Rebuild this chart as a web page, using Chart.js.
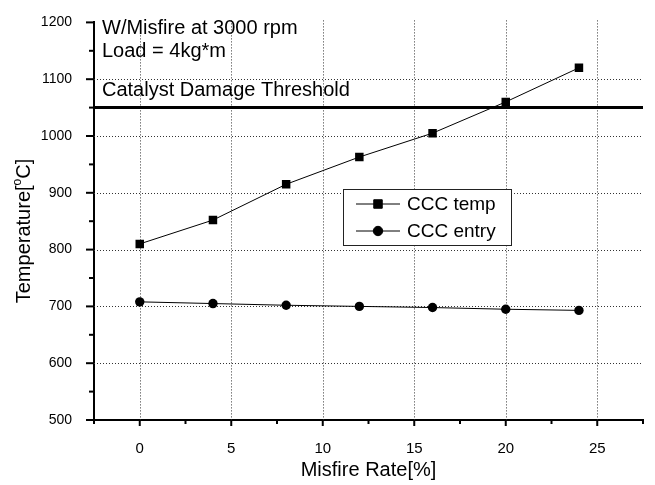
<!DOCTYPE html>
<html>
<head>
<meta charset="utf-8">
<script src="https://cdn.jsdelivr.net/npm/chart.js@4/dist/chart.umd.min.js"></script>
<style>
  html, body { margin: 0; padding: 0; background: #fff; }
</style>
</head>
<body>
<canvas id="misfireChart" width="655" height="485"></canvas>
<script>
const misfireRate = [0, 4, 8, 12, 16, 20, 24];
const cccTemp = [810, 852, 915, 963, 1005, 1060, 1120];
const cccEntry = [708, 705, 702, 700, 698, 695, 693];
const thresholdX = [-2.5, 27.5];
const thresholdY = [1050, 1050];
const xTicks = [0, 5, 10, 15, 20, 25];
const xMinorTicks = [-2.5, 2.5, 7.5, 12.5, 17.5, 22.5, 27.5];
const yTicks = [500, 600, 700, 800, 900, 1000, 1100, 1200];
const yMinorTicks = [550, 650, 750, 850, 950, 1050, 1150];
const xGrid = [0, 5, 10, 15, 20, 25];
const yGrid = [600, 700, 800, 900, 1000, 1100];
const noteLines = ['W/Misfire at 3000 rpm', 'Load = 4kg*m'];
const thresholdLabel = 'Catalyst Damage Threshold';
const seriesNames = ['CCC temp', 'CCC entry'];

const FONT = '"Liberation Sans", Arial, sans-serif';
Chart.defaults.font.family = FONT;
Chart.defaults.color = '#000';

function toPoints(xs, ys) {
  return xs.map((x, i) => ({ x: x, y: ys[i] }));
}

// dotted grid + tick marks, drawn under the data
const gridPlugin = {
  id: 'gridTicks',
  beforeDatasetsDraw(chart) {
    const ctx = chart.ctx;
    const ca = chart.chartArea;
    const xs = chart.scales.x, ys = chart.scales.y;
    ctx.save();
    ctx.strokeStyle = '#333';
    ctx.lineWidth = 1;
    ctx.setLineDash([1, 2]);
    xGrid.forEach(v => {
      const px = Math.round(xs.getPixelForValue(v)) + 0.5;
      ctx.beginPath(); ctx.moveTo(px, ca.top - 2); ctx.lineTo(px, ca.bottom); ctx.stroke();
    });
    yGrid.forEach(v => {
      const py = Math.round(ys.getPixelForValue(v)) + 0.5;
      ctx.beginPath(); ctx.moveTo(ca.left, py); ctx.lineTo(ca.right, py); ctx.stroke();
    });
    ctx.setLineDash([]);
    ctx.strokeStyle = '#000';
    ctx.lineWidth = 2;
    xTicks.forEach(v => {
      const px = xs.getPixelForValue(v);
      ctx.beginPath(); ctx.moveTo(px, ca.bottom); ctx.lineTo(px, ca.bottom + 6); ctx.stroke();
    });
    xMinorTicks.forEach(v => {
      const px = xs.getPixelForValue(v);
      ctx.beginPath(); ctx.moveTo(px, ca.bottom); ctx.lineTo(px, ca.bottom + 4); ctx.stroke();
    });
    yTicks.forEach(v => {
      const py = ys.getPixelForValue(v);
      ctx.beginPath(); ctx.moveTo(ca.left - 8, py); ctx.lineTo(ca.left, py); ctx.stroke();
    });
    yMinorTicks.forEach(v => {
      const py = ys.getPixelForValue(v);
      ctx.beginPath(); ctx.moveTo(ca.left - 5, py); ctx.lineTo(ca.left, py); ctx.stroke();
    });
    ctx.restore();
  },
  afterDraw(chart) {
    const ctx = chart.ctx;
    const ca = chart.chartArea;
    ctx.save();
    ctx.fillStyle = '#000';

    // notes in the top left corner
    ctx.font = '20px ' + FONT;
    ctx.textAlign = 'left';
    ctx.textBaseline = 'alphabetic';
    ctx.fillText(noteLines[0], ca.left + 8, ca.top + 12);
    ctx.fillText(noteLines[1], ca.left + 8, ca.top + 35);
    ctx.fillText(thresholdLabel, ca.left + 8, ca.top + 74);

    // y axis title with superscript o
    ctx.translate(24, 231);
    ctx.rotate(-Math.PI / 2);
    const p1 = 'Temperature[', p2 = 'o', p3 = 'C]';
    ctx.font = '20px ' + FONT;
    const w1 = ctx.measureText(p1).width, w3 = ctx.measureText(p3).width;
    ctx.font = '12px ' + FONT;
    const w2 = ctx.measureText(p2).width;
    let x0 = -(w1 + w2 + w3) / 2;
    ctx.textBaseline = 'middle';
    ctx.font = '20px ' + FONT;
    ctx.fillText(p1, x0, 0);
    ctx.font = '12px ' + FONT;
    ctx.fillText(p2, x0 + w1, -6);
    ctx.font = '20px ' + FONT;
    ctx.fillText(p3, x0 + w1 + w2, 0);
    ctx.restore();

    // legend box
    ctx.save();
    const bx = ca.left + 249, by = 189, bw = 168, bh = 56;
    ctx.fillStyle = '#fff';
    ctx.fillRect(bx, by, bw, bh);
    ctx.strokeStyle = '#222';
    ctx.lineWidth = 1;
    ctx.strokeRect(bx + 0.5, by + 0.5, bw, bh);
    ctx.font = '19px ' + FONT;
    ctx.textBaseline = 'middle';
    ctx.fillStyle = '#000';
    chart.data.datasets.slice(0, 2).forEach((ds, i) => {
      const cy = by + 15 + i * 27;
      ctx.strokeStyle = '#000';
      ctx.beginPath(); ctx.moveTo(bx + 13, cy); ctx.lineTo(bx + 57, cy); ctx.stroke();
      Chart.helpers.drawPoint(ctx, { pointStyle: ds.pointStyle, radius: ds.pointRadius, borderWidth: 1 }, bx + 35, cy);
      ctx.fillText(seriesNames[i], bx + 64, cy + 1);
    });
    ctx.restore();
  }
};

const ctx = document.getElementById('misfireChart').getContext('2d');
const misfireChart = new Chart(ctx, {
  type: 'line',
  data: {
    datasets: [{
      label: seriesNames[0],
      data: toPoints(misfireRate, cccTemp),
      borderColor: '#000',
      backgroundColor: '#000',
      borderWidth: 1,
      pointStyle: 'rect',
      pointRadius: 6,
      pointBorderWidth: 0,
      fill: false
    }, {
      label: seriesNames[1],
      data: toPoints(misfireRate, cccEntry),
      borderColor: '#000',
      backgroundColor: '#000',
      borderWidth: 1,
      pointStyle: 'circle',
      pointRadius: 4.7,
      pointBorderWidth: 0,
      fill: false
    }, {
      label: 'threshold',
      data: toPoints(thresholdX, thresholdY),
      borderColor: '#000',
      borderWidth: 3,
      pointRadius: 0,
      fill: false,
      clip: 4
    }]
  },
  options: {
    responsive: false,
    animation: false,
    devicePixelRatio: 1,
    layout: { padding: { top: 15, right: 12, left: 0, bottom: 0 } },
    plugins: { legend: { display: false }, tooltip: { enabled: false } },
    scales: {
      x: {
        type: 'linear',
        min: -2.5,
        max: 27.5,
        afterBuildTicks: s => { s.ticks = xTicks.map(v => ({ value: v })); },
        afterFit: s => { s.height = 65; },
        grid: { display: false },
        border: { display: true, color: '#000', width: 2 },
        ticks: { color: '#000', font: { size: 15 }, padding: 12, maxRotation: 0, autoSkip: false, callback: v => String(v) },
        title: { display: true, text: 'Misfire Rate[%]', color: '#000', font: { size: 20 }, padding: { top: 0, bottom: 3 } }
      },
      y: {
        type: 'linear',
        min: 500,
        max: 1200,
        afterBuildTicks: s => { s.ticks = yTicks.map(v => ({ value: v })); },
        afterFit: s => { s.width = 94; },
        grid: { display: false },
        border: { display: true, color: '#000', width: 2 },
        ticks: { color: '#000', font: { size: 14 }, padding: 14, autoSkip: false, callback: v => String(v) }
      }
    }
  },
  plugins: [gridPlugin]
});
</script>
</body>
</html>
